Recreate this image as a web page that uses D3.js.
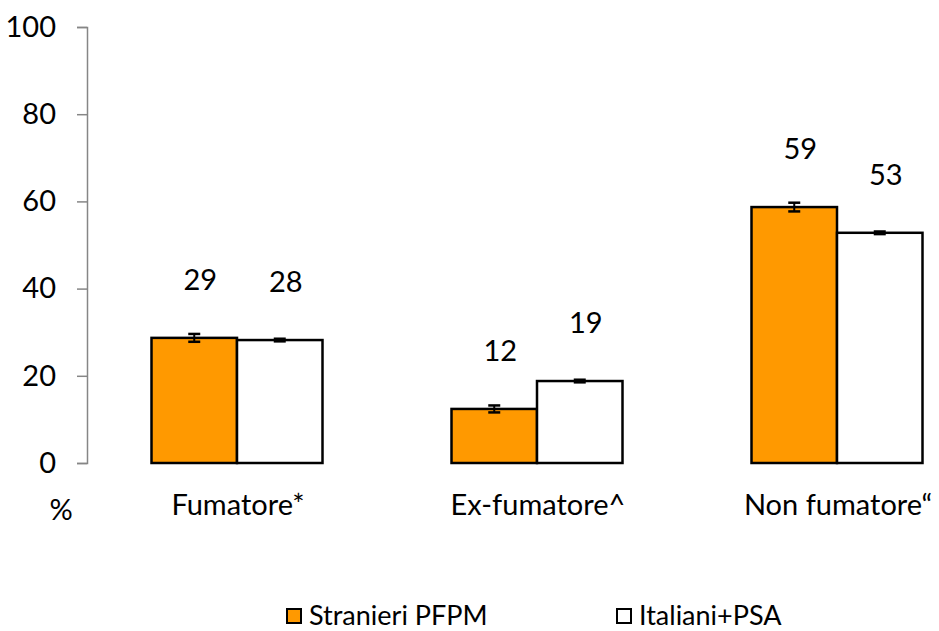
<!DOCTYPE html>
<html>
<head>
<meta charset="utf-8">
<script src="https://cdn.jsdelivr.net/npm/d3@7"></script>
<style>
body { margin: 0; background: #fff; }
text { font-family: Lato, "Open Sans", sans-serif; fill: #000; }
</style>
</head>
<body>
<script>
var categories = ["Fumatore*", "Ex-fumatore^", "Non fumatore\u201c"];
var seriesNames = ["Stranieri PFPM", "Italiani+PSA"];
var stranieri = [28.7, 12.4, 58.7];
var italiani = [28.2, 18.8, 52.8];
var stranieriErr = [0.9, 0.8, 1.0];
var italianiErr = [0.3, 0.3, 0.3];
var stranieriLabels = ["29", "12", "59"];
var italianiLabels = ["28", "19", "53"];
var yTicks = [0, 20, 40, 60, 80, 100];

var seriesColors = ["#ff9900", "#ffffff"];

var width = 939, height = 631;
var svg = d3.select("body").append("svg").attr("width", width).attr("height", height);

var x = d3.scaleBand().domain(categories).range([87, 987]).paddingInner(0).paddingOuter(0);
var y = d3.scaleLinear().domain([0, 100]).range([463, 27]);
var groupW = 171;
var x1 = d3.scaleBand().domain([0, 1]).range([0, groupW]);

// y axis
var yAxis = svg.append("g")
    .attr("transform", "translate(87,0)")
    .call(d3.axisLeft(y).tickValues(yTicks).tickSize(10).tickPadding(21));
yAxis.select(".domain").attr("stroke", "#868686").attr("stroke-width", 1.5);
yAxis.selectAll(".tick line").attr("stroke", "#868686").attr("stroke-width", 1.5);
yAxis.selectAll(".tick text").style("font-size", "29px").style("font-family", "Lato, 'Open Sans', sans-serif").attr("fill", "#000");

var series = [
    {vals: stranieri, err: stranieriErr, labels: stranieriLabels},
    {vals: italiani, err: italianiErr, labels: italianiLabels}
];

series.forEach(function (s, si) {
    var g = svg.append("g");
    g.selectAll("rect")
        .data(s.vals)
        .enter().append("rect")
        .attr("x", function (d, i) { return x(categories[i]) + (x.bandwidth() - groupW) / 2 + x1(si); })
        .attr("y", function (d) { return y(d); })
        .attr("width", x1.bandwidth())
        .attr("height", function (d) { return y(0) - y(d); })
        .attr("fill", seriesColors[si])
        .attr("stroke", "#000")
        .attr("stroke-width", 2.5);

    // error bars + value labels
    s.vals.forEach(function (d, i) {
        var cx = x(categories[i]) + (x.bandwidth() - groupW) / 2 + x1(si) + x1.bandwidth() / 2;
        var e = s.err[i];
        g.append("line").attr("x1", cx).attr("x2", cx).attr("y1", y(d + e)).attr("y2", y(d - e))
            .attr("stroke", "#000").attr("stroke-width", 2);
        [d + e, d - e].forEach(function (v) {
            g.append("line").attr("x1", cx - 6).attr("x2", cx + 6).attr("y1", y(v)).attr("y2", y(v))
                .attr("stroke", "#000").attr("stroke-width", 2.5);
        });
        g.append("text")
            .attr("x", cx + 6)
            .attr("y", y(d) - 48)
            .attr("text-anchor", "middle")
            .style("font-size", "29px")
            .text(s.labels[i]);
    });
});

// category labels
svg.selectAll("text.cat")
    .data(categories)
    .enter().append("text")
    .attr("class", "cat")
    .attr("x", function (d) { return x(d) + x.bandwidth() / 2 + 1; })
    .attr("y", 515)
    .attr("text-anchor", "middle")
    .style("font-size", "29px")
    .text(function (d) { return d; });

svg.append("text").attr("x", 61).attr("y", 520).attr("text-anchor", "middle")
    .style("font-size", "29px").text("%");

// legend
var legendX = [287, 617];
seriesNames.forEach(function (name, i) {
    svg.append("rect").attr("x", legendX[i]).attr("y", 609).attr("width", 14).attr("height", 14)
        .attr("fill", seriesColors[i]).attr("stroke", "#000").attr("stroke-width", 2);
    svg.append("text").attr("x", legendX[i] + 22).attr("y", 625)
        .style("font-size", "27px").text(name);
});
</script>
</body>
</html>
